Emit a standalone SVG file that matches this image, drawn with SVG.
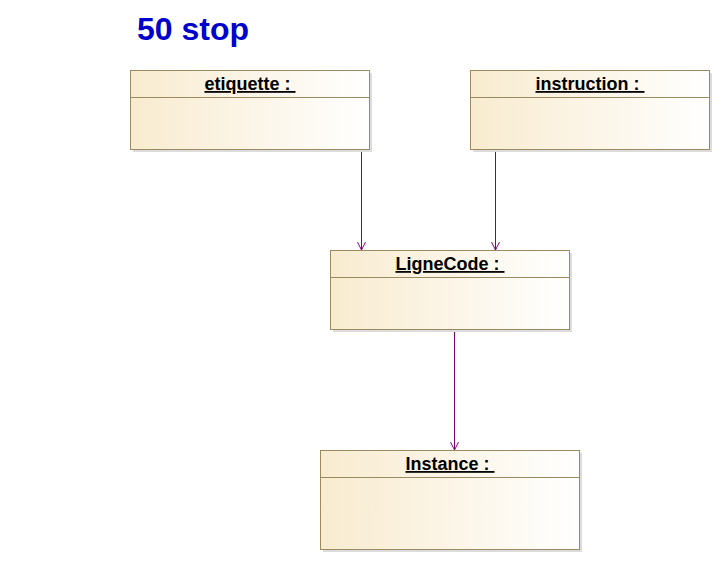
<svg xmlns="http://www.w3.org/2000/svg" width="721" height="561" viewBox="0 0 721 561">
<style>
.box{fill:url(#g);stroke:#9a8a60;stroke-width:1}
.shadow{fill:#dcdcdc}
.div{stroke:#9a8a60;stroke-width:1}
.lbl{font-family:"Liberation Sans",Arial,sans-serif;font-weight:bold;font-size:18px;fill:#000;text-decoration:underline;text-anchor:middle}
.conn{stroke:#800080;stroke-width:1;fill:none}
.title{font-family:"Liberation Sans",Arial,sans-serif;font-weight:bold;font-size:32px;fill:#0000cc}
</style>
<defs>
<linearGradient id="g" x1="0" y1="0" x2="1" y2="0">
<stop offset="0" stop-color="#f8ebcf"/>
<stop offset="1" stop-color="#ffffff"/>
</linearGradient>
<marker id="arr" markerWidth="10" markerHeight="10" refX="9" refY="5" orient="auto" markerUnits="userSpaceOnUse" viewBox="0 0 10 10">
<path d="M1,1 L9,5 L1,9" fill="none" stroke="#800080" stroke-width="1"/>
</marker>
</defs>
<rect width="721" height="561" fill="#ffffff"/>
<text class="title" x="137" y="40">50 stop</text>
<g id="connectors">
<line class="conn" x1="361.5" y1="150" x2="361.5" y2="250" marker-end="url(#arr)"/>
<line class="conn" x1="495.5" y1="150" x2="495.5" y2="250" marker-end="url(#arr)"/>
<line class="conn" x1="454.5" y1="330" x2="454.5" y2="450" marker-end="url(#arr)"/>
</g>
<g id="etiquette">
<rect class="shadow" x="133" y="73" width="239" height="79"/>
<rect class="box" x="130.5" y="70.5" width="239" height="79"/>
<line class="div" x1="130.5" y1="97.5" x2="369.5" y2="97.5"/>
<text class="lbl" x="250" y="90" xml:space="preserve">etiquette : </text>
</g>
<g id="instruction">
<rect class="shadow" x="473" y="73" width="239" height="79"/>
<rect class="box" x="470.5" y="70.5" width="239" height="79"/>
<line class="div" x1="470.5" y1="97.5" x2="709.5" y2="97.5"/>
<text class="lbl" x="590" y="90" xml:space="preserve">instruction : </text>
</g>
<g id="lignecode">
<rect class="shadow" x="333" y="253" width="239" height="79"/>
<rect class="box" x="330.5" y="250.5" width="239" height="79"/>
<line class="div" x1="330.5" y1="277.5" x2="569.5" y2="277.5"/>
<text class="lbl" x="450" y="270" xml:space="preserve">LigneCode : </text>
</g>
<g id="instance">
<rect class="shadow" x="323" y="453" width="259" height="99"/>
<rect class="box" x="320.5" y="450.5" width="259" height="99"/>
<line class="div" x1="320.5" y1="477.5" x2="579.5" y2="477.5"/>
<text class="lbl" x="450" y="470" xml:space="preserve">Instance : </text>
</g>
</svg>
